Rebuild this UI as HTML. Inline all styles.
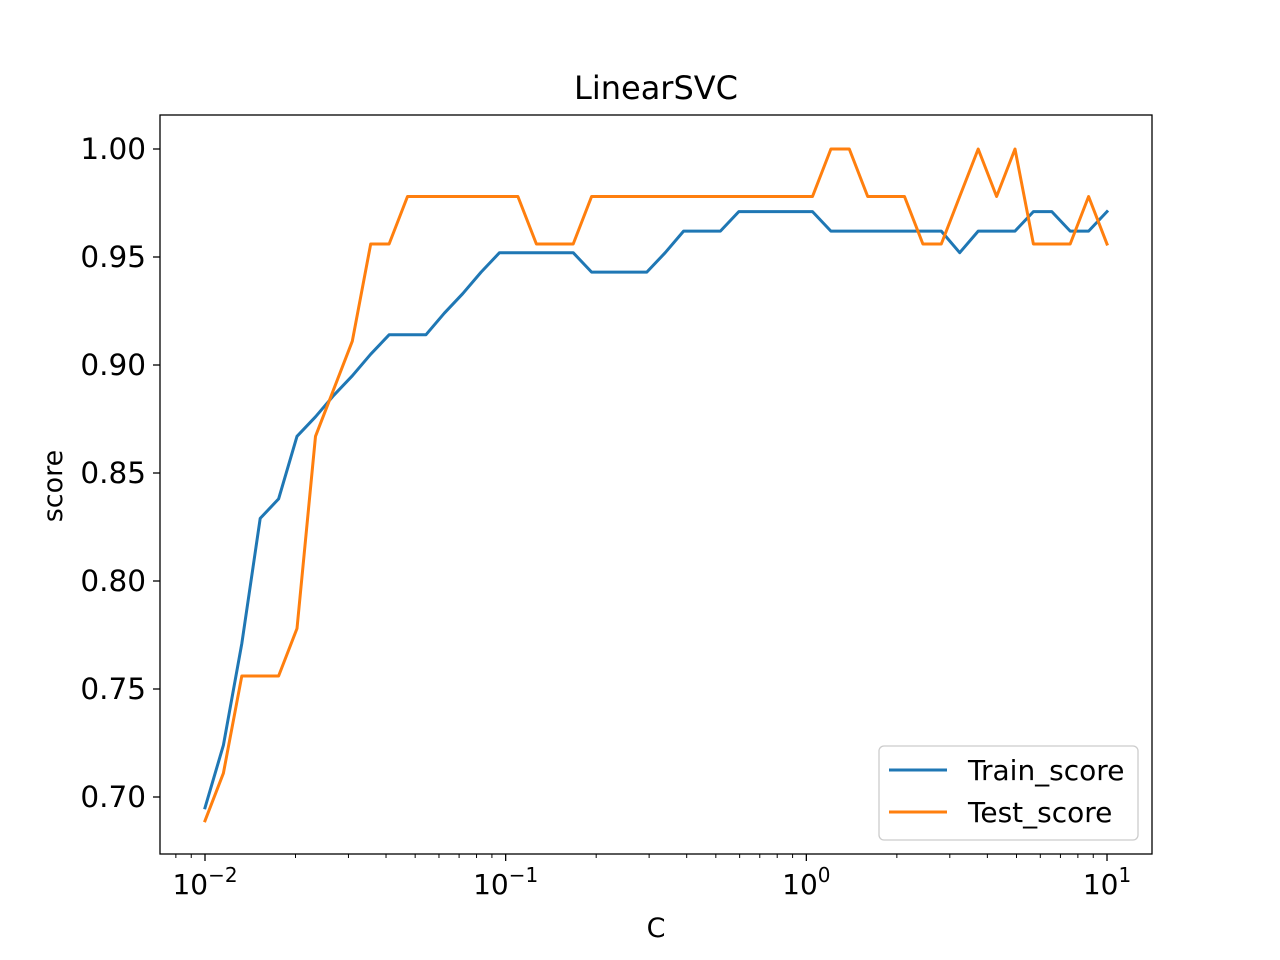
<!DOCTYPE html>
<html><head><meta charset="utf-8"><style>
html,body{margin:0;padding:0;background:#fff}
svg{display:block;font-family:"DejaVu Sans","Liberation Sans",sans-serif}
</style></head><body>
<svg id="chart" width="1280" height="960" viewBox="0 0 1280 960" xmlns="http://www.w3.org/2000/svg">
<rect x="0" y="0" width="1280" height="960" fill="#fff"/>
<text x="656" y="99" font-size="32" text-anchor="middle">LinearSVC</text>
<g id="axes"></g>
<g id="series"></g>
<rect x="160" y="115" width="992" height="739" fill="none" stroke="#000" stroke-width="1.3"/>
<text x="656" y="937" font-size="27" text-anchor="middle">C</text>
<text x="62" y="486" font-size="27" text-anchor="middle" transform="rotate(-90 62 486)">score</text>
<g>
<rect x="879" y="746" width="259" height="94" rx="5" fill="#fff" fill-opacity="0.8" stroke="#ccc" stroke-width="1.3"/>
<line x1="889" y1="770" x2="947" y2="770" stroke="#1f77b4" stroke-width="3"/>
<text x="968" y="780" font-size="28">Train_score</text>
<line x1="889" y1="812" x2="947" y2="812" stroke="#ff7f0e" stroke-width="3"/>
<text x="968" y="822" font-size="28">Test_score</text>
</g>
</svg>
<script>
const cExps = [];
for (let i = 0; i < 50; i++) cExps.push(-2 + 3 * i / 49);
const trainScore = [0.695,0.724,0.771,0.829,0.838,0.867,0.876,0.886,0.895,0.905,
0.914,0.914,0.914,0.924,0.933,0.943,0.952,0.952,0.952,0.952,
0.952,0.943,0.943,0.943,0.943,0.952,0.962,0.962,0.962,0.971,
0.971,0.971,0.971,0.971,0.962,0.962,0.962,0.962,0.962,0.962,
0.962,0.952,0.962,0.962,0.962,0.971,0.971,0.962,0.962,0.971];
const testScore = [0.689,0.711,0.756,0.756,0.756,0.778,0.867,0.889,0.911,0.956,
0.956,0.978,0.978,0.978,0.978,0.978,0.978,0.978,0.956,0.956,
0.956,0.978,0.978,0.978,0.978,0.978,0.978,0.978,0.978,0.978,
0.978,0.978,0.978,0.978,1.0,1.0,0.978,0.978,0.978,0.956,
0.956,0.978,1.0,0.978,1.0,0.956,0.956,0.956,0.978,0.956];
const yTicks = [0.70,0.75,0.80,0.85,0.90,0.95,1.00];
const yTickLabels = ["0.70","0.75","0.80","0.85","0.90","0.95","1.00"];
const xMajorExps = [-2,-1,0,1];
const xMajorLabels = ["\u22122","\u22121","0","1"];

const NS = "http://www.w3.org/2000/svg";
function xs(e){ return 205 + (e + 2) * 300.67; }
function ys(v){ return 149 + (1.0 - v) * 2160; }
function mk(tag, attrs, parent){ const el=document.createElementNS(NS,tag); for(const k in attrs) el.setAttribute(k,attrs[k]); parent.appendChild(el); return el; }
const axes = document.getElementById('axes');
yTicks.forEach((v,i)=>{
  const t = mk('line',{x1:153,x2:160,y1:ys(v),y2:ys(v),stroke:'#000','stroke-width':1.3},axes);
  
  
  const l = mk('text',{x:146,y:ys(v)+10,'font-size':29.5,'text-anchor':'end'},axes);
  l.textContent = yTickLabels[i];
  
  
});
for (let d=-3; d<=1; d++) for (let m=2; m<=9; m++){
  const e = d + Math.log10(m);
  const x = xs(e);
  if (x < 160 || x > 1152) continue;
  const t = mk('line',{x1:x,x2:x,y1:854,y2:858,stroke:'#000','stroke-width':1},axes);
  
  
}
xMajorExps.forEach((e,i)=>{
  const x = xs(e);
  const t = mk('line',{x1:x,x2:x,y1:854,y2:861,stroke:'#000','stroke-width':1.3},axes);
  
  
  const l = mk('text',{x:x,y:894,'font-size':28,'text-anchor':'middle'},axes);
  
  
  const a = document.createElementNS(NS,'tspan'); a.textContent='10'; l.appendChild(a);
  const b = document.createElementNS(NS,'tspan'); b.setAttribute('dy','-12'); b.setAttribute('font-size','20'); b.textContent=xMajorLabels[i]; l.appendChild(b);
});
const series = document.getElementById('series');
function drawLine(vals, color, name){
  const pts = vals.map((v,i)=>xs(cExps[i]).toFixed(1)+','+ys(v).toFixed(1)).join(' ');
  const p = mk('polyline',{points:pts,fill:'none',stroke:color,'stroke-width':3,'stroke-linejoin':'round','stroke-linecap':'square'},series);
  
  
}
drawLine(trainScore,'#1f77b4','train-score-line');
drawLine(testScore,'#ff7f0e','test-score-line');
</script>
</body></html>
